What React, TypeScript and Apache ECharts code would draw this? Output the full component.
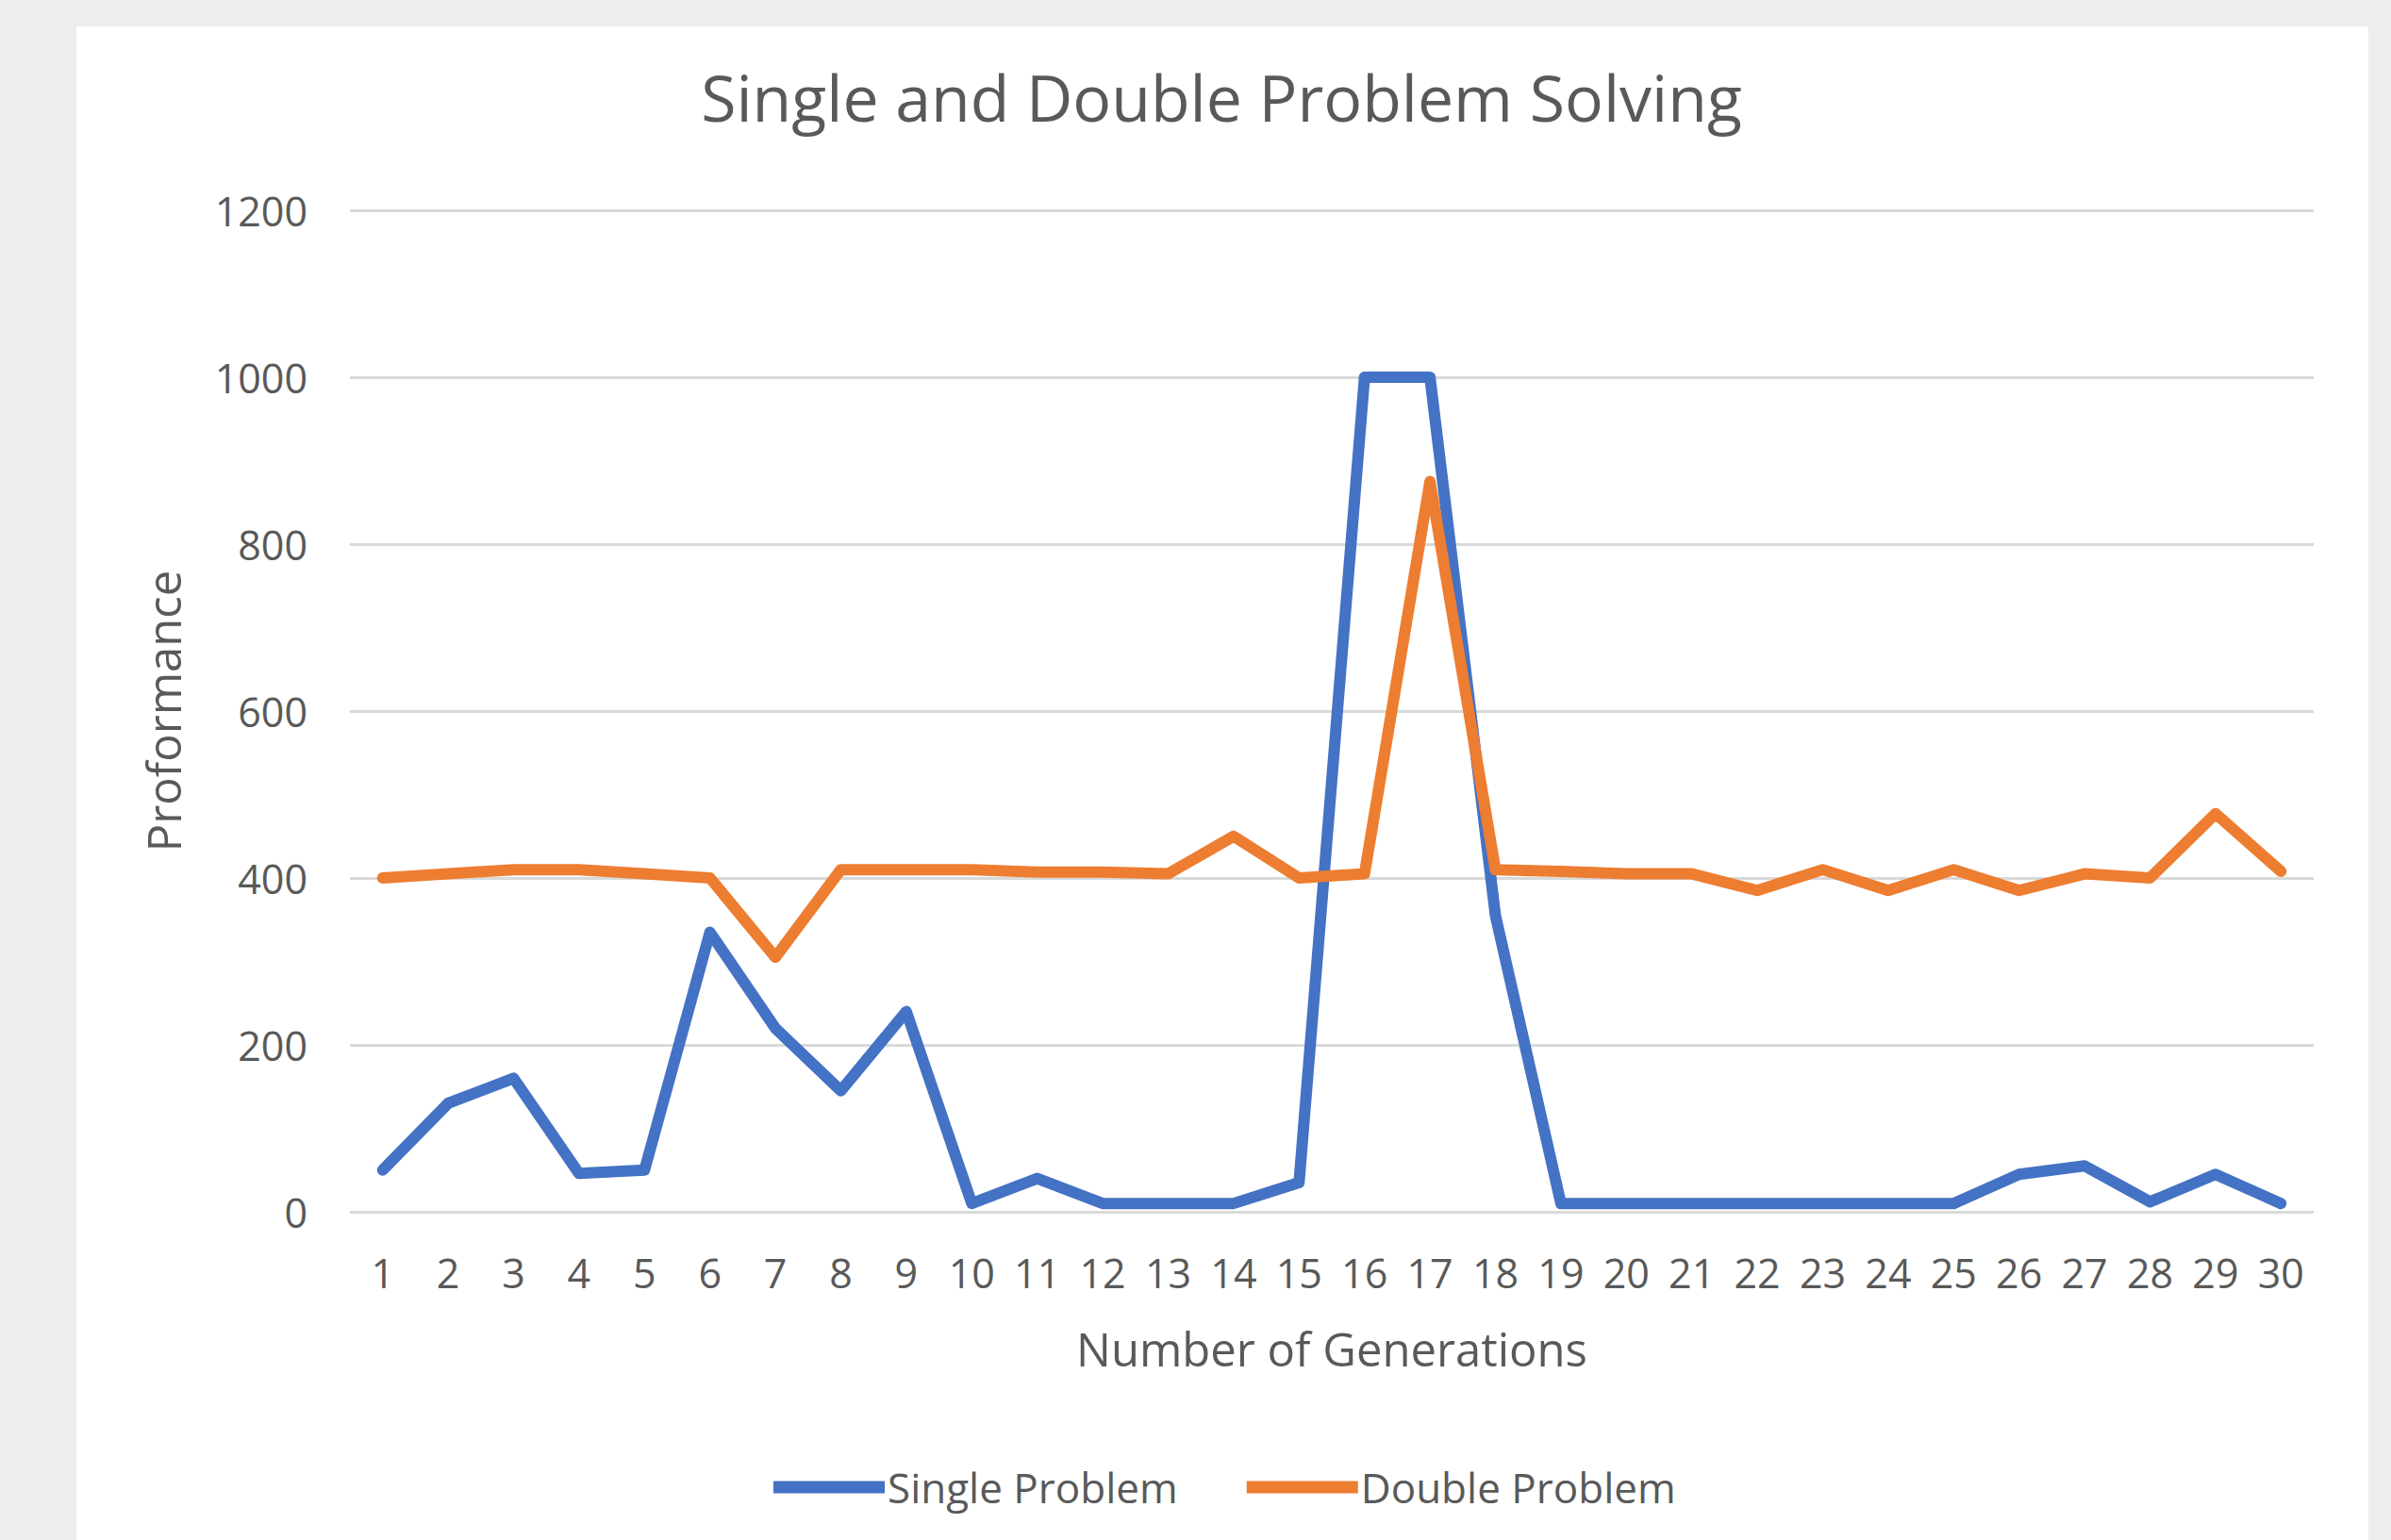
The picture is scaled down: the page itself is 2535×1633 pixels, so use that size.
import React, { useEffect, useRef } from "react";
import * as echarts from "echarts";

const categories = Array.from({ length: 30 }, (_, i) => String(i + 1));
const singleProblem = [50, 130, 160, 46, 50, 335, 220, 145, 240, 10, 40, 10, 10, 10, 35, 1000, 1000, 355, 10, 10, 10, 10, 10, 10, 10, 45, 55, 12, 45, 10];
const doubleProblem = [400, 405, 410, 410, 405, 400, 305, 410, 410, 410, 407, 407, 405, 450, 400, 405, 875, 410, 408, 405, 405, 385, 410, 385, 410, 385, 405, 400, 477, 408];
const seriesNames = ["Single Problem", "Double Problem"];
const colors = ["#4472C4", "#ED7D31"];

const FONT = "'Open Sans', 'Noto Sans', sans-serif";
const TEXT = "#595959";

export default function App() {
  const ref = useRef<HTMLDivElement>(null);
  useEffect(() => {
    if (!ref.current) return;
    const chart = echarts.init(ref.current, null, { renderer: "svg" });
    chart.setOption({
      animation: false,
      backgroundColor: "#ededed",
      textStyle: { fontFamily: FONT, color: TEXT },
      graphic: [
        {
          type: "rect",
          silent: true,
          z: -10,
          shape: { x: 81, y: 28, width: 2430, height: 1633 },
          style: { fill: "#ffffff" },
        },
      ],
      title: {
        text: "Single and Double Problem Solving",
        left: 1290,
        textAlign: "center",
        top: 63,
        textStyle: { fontFamily: FONT, fontSize: 68, fontWeight: "normal", color: TEXT },
      },
      grid: { left: 371, right: 82, top: 223, bottom: 348, containLabel: false },
      legend: {
        data: seriesNames,
        left: 815,
        top: 1550,
        itemWidth: 118,
        itemHeight: 13,
        itemGap: 73,
        icon: "rect",
        textStyle: { fontFamily: FONT, fontSize: 44, color: TEXT, padding: [0, 0, 0, -2] },
      },
      xAxis: {
        type: "category",
        data: categories,
        boundaryGap: true,
        name: "Number of Generations",
        nameLocation: "middle",
        nameGap: 120,
        nameTextStyle: { fontFamily: FONT, fontSize: 49, color: TEXT },
        axisLine: { show: false },
        axisTick: { show: false },
        axisLabel: { fontFamily: FONT, fontSize: 43, color: TEXT, margin: 43, interval: 0 },
      },
      yAxis: {
        type: "value",
        min: 0,
        max: 1200,
        interval: 200,
        name: "Proformance",
        nameLocation: "middle",
        nameGap: 174,
        nameRotate: 90,
        nameTextStyle: { fontFamily: FONT, fontSize: 49, color: TEXT },
        axisLine: { show: false },
        axisTick: { show: false },
        axisLabel: {
          fontFamily: FONT,
          fontSize: 43,
          color: TEXT,
          margin: 45,
          formatter: (v: number) => String(v),
        },
        splitLine: { lineStyle: { color: "#d9d9d9", width: 3 } },
      },
      series: [
        {
          name: seriesNames[0],
          type: "line",
          data: singleProblem,
          showSymbol: false,
          symbol: "none",
          color: colors[0],
          lineStyle: { color: colors[0], width: 12, join: "round", cap: "round" },
        },
        {
          name: seriesNames[1],
          type: "line",
          data: doubleProblem,
          showSymbol: false,
          symbol: "none",
          color: colors[1],
          lineStyle: { color: colors[1], width: 12, join: "round", cap: "round" },
        },
      ],
    });
    return () => chart.dispose();
  }, []);
  return (
    <div
      ref={ref}
      style={{ position: "fixed", left: 0, top: 0, width: 2535, height: 1633 }}
    />
  );
}
